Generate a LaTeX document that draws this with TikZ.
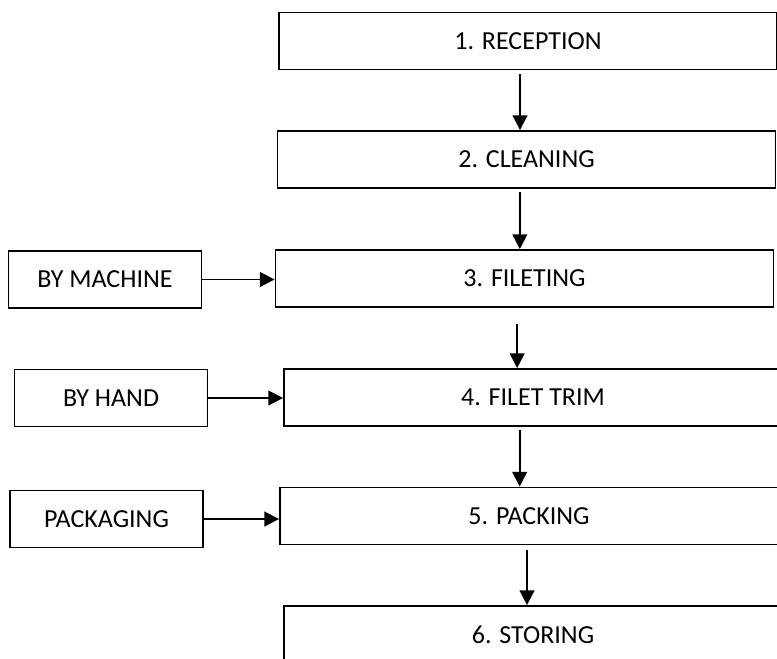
\documentclass[tikz,border=0pt]{standalone}
\usepackage{fontspec}
\setmainfont{Carlito}
\usetikzlibrary{arrows.meta}

\begin{document}
\begin{tikzpicture}[x=0.75pt,y=-0.75pt,>={Triangle[length=11pt,width=11pt]},
    every node/.style={draw=black,line width=1.4pt,rectangle,inner sep=0pt,
      font=\fontsize{19.5}{23}\selectfont},
    stage/.style={minimum width=373.5pt,minimum height=42.75pt},
    input/.style={minimum width=144.75pt,minimum height=42.75pt},
    flow/.style={->,line width=1.4pt}]
    \useasboundingbox (0,0) rectangle (777,658);
    \clip (0,0) rectangle (777,658);

        % main line
        \node[stage] (reception) at (528,41) {1. RECEPTION};
        \node[stage] (cleaning) at (526.5,159.5) {2. CLEANING};
        \node[stage] (fileting) at (524.5,278.5) {3. FILETING};
        \node[stage] (trim) at (533,397.5) {4. FILET TRIM};
        \node[stage] (packing) at (529,516) {5. PACKING};
        \node[stage] (storing) at (533,634.5) {6. STORING};

        % inputs
        \node[input] (machine) at (105,279.5) {BY MACHINE};
        \node[input] (hand) at (111,398) {BY HAND};
        \node[input] (packaging) at (106.5,519) {PACKAGING};

        \draw[flow] ([xshift=-6pt,yshift=-3pt]reception.south) -- ([xshift=-6pt]reception.south |- cleaning.north);
        \draw[flow] ([xshift=-5pt,yshift=-2pt]cleaning.south) -- ([xshift=-5pt]cleaning.south |- fileting.north);
        \draw[flow] ([xshift=-5.5pt,yshift=-12pt]fileting.south) -- ([xshift=-5.5pt]fileting.south |- trim.north);
        \draw[flow] ([xshift=-10pt,yshift=-2pt]trim.south) -- ([xshift=-10pt]trim.south |- packing.north);
        \draw[flow] ([xshift=-1.5pt,yshift=-3.5pt]packing.south) -- ([xshift=-1.5pt]packing.south |- storing.north);

        \draw[flow] (machine.east) -- (machine.east -| fileting.west);
        \draw[flow] (hand.east) -- (hand.east -| trim.west);
        \draw[flow] (packaging.east) -- (packaging.east -| packing.west);

  \end{tikzpicture}
\end{document}
